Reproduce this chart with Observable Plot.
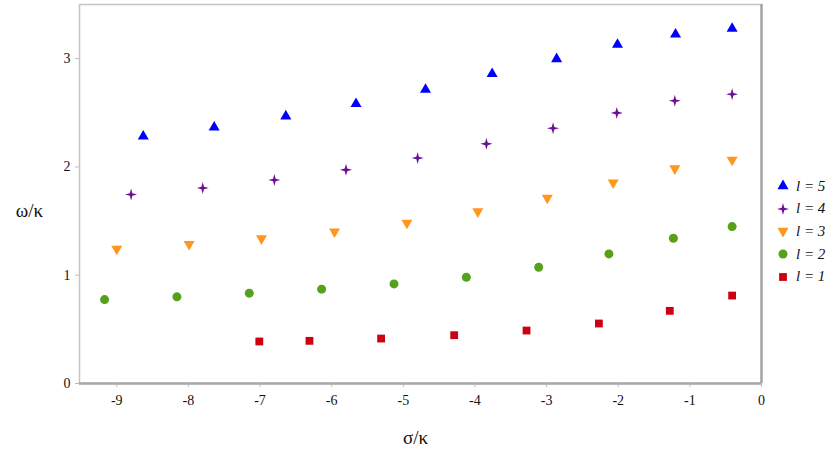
<!DOCTYPE html>
<html>
<head>
<meta charset="utf-8">
<script src="https://cdn.jsdelivr.net/npm/d3@7"></script>
<script src="https://cdn.jsdelivr.net/npm/@observablehq/plot@0.6"></script>
<style>
  html, body { margin: 0; padding: 0; background: #fff; }
  #wrap { position: relative; width: 836px; height: 457px; font-family: 'Liberation Serif'; }
  #chart svg, #chart svg text { font-family: 'Liberation Serif' !important; }
  #legend { position: absolute; left: 776px; top: 175px; font-style: italic; font-size: 15px; color: #111; font-family: 'Liberation Serif'; }
  #legend .row { display: flex; align-items: center; height: 22.6px; }
  #legend svg { margin-right: 6px; }
</style>
</head>
<body>
<div id="wrap"><div id="chart"></div><div id="legend"></div></div>
<script>
// ---- data ----
const l5sigma = [-8.63, -7.64, -6.64, -5.66, -4.69, -3.76, -2.86, -2.01, -1.20, -0.41];
const l5omega = [2.283, 2.366, 2.468, 2.582, 2.714, 2.859, 2.997, 3.129, 3.224, 3.277];
const l4sigma = [-8.80, -7.80, -6.80, -5.80, -4.80, -3.84, -2.91, -2.02, -1.21, -0.41];
const l4omega = [1.745, 1.806, 1.880, 1.973, 2.083, 2.213, 2.357, 2.499, 2.612, 2.671];
const l3sigma = [-9.00, -7.99, -6.98, -5.96, -4.95, -3.96, -2.99, -2.07, -1.21, -0.41];
const l3omega = [1.243, 1.286, 1.339, 1.403, 1.483, 1.588, 1.714, 1.855, 1.985, 2.065];
const l2sigma = [-9.17, -8.16, -7.15, -6.14, -5.13, -4.12, -3.11, -2.13, -1.23, -0.41];
const l2omega = [0.775, 0.800, 0.834, 0.871, 0.920, 0.981, 1.074, 1.197, 1.341, 1.449];
const l1sigma = [-7.01, -6.31, -5.31, -4.29, -3.28, -2.27, -1.28, -0.41];
const l1omega = [0.388, 0.394, 0.415, 0.446, 0.489, 0.554, 0.671, 0.812];
const seriesNames = ["l = 5", "l = 4", "l = 3", "l = 2", "l = 1"];
const xTicks = [-9, -8, -7, -6, -5, -4, -3, -2, -1, 0];
const yTicks = [0, 1, 2, 3];
const xLabel = "σ/κ";
const yLabel = "ω/κ";

// ---- styles ----
const colors = {"l = 5": "#0000ff", "l = 4": "#6e0e96", "l = 3": "#ff961e", "l = 2": "#56a11c", "l = 1": "#cc0010"};
const serifFont = "Liberation Serif";

const sparkle = {
  draw(context, size) {
    const R = Math.sqrt(size / Math.PI) * 1.5;
    const ri = R * 0.3;
    for (let i = 0; i < 8; i++) {
      const a = i * Math.PI / 4 - Math.PI / 2;
      const rr = i % 2 === 0 ? R : ri;
      const x = rr * Math.cos(a), y = rr * Math.sin(a);
      if (i === 0) context.moveTo(x, y); else context.lineTo(x, y);
    }
    context.closePath();
  }
};

const mk = (s, o) => s.map((v, i) => ({sigma: v, omega: o[i]}));
const rows5 = mk(l5sigma, l5omega), rows4 = mk(l4sigma, l4omega), rows3 = mk(l3sigma, l3omega),
      rows2 = mk(l2sigma, l2omega), rows1 = mk(l1sigma, l1omega);

const symFor = {"l = 5": ["triangle", d3.symbolTriangle, 0, 4.1],
                "l = 4": [sparkle, sparkle, 0, 4.0],
                "l = 3": ["triangle", d3.symbolTriangle, 180, 4.1],
                "l = 2": ["circle", d3.symbolCircle, 0, 4.5],
                "l = 1": ["square", d3.symbolSquare, 0, 4.4]};
const dataFor = {"l = 5": rows5, "l = 4": rows4, "l = 3": rows3, "l = 2": rows2, "l = 1": rows1};

const chart = Plot.plot({
  width: 836,
  height: 457,
  marginLeft: 79,
  marginRight: 75,
  marginTop: 4,
  marginBottom: 74,
  style: {fontSize: "14px", fontFamily: serifFont, color: "#111", background: "#fff"},
  x: {domain: [-9.52, 0], label: null},
  y: {domain: [0, 3.5], label: null},
  marks: [
    Plot.frame({stroke: "#c4c4c4", strokeWidth: 1.5}),
    Plot.ruleY([0], {stroke: "#a6a6a6", strokeWidth: 2.5}),
    Plot.ruleX([0], {stroke: "#a6a6a6", strokeWidth: 2.5}),
    Plot.axisX({ticks: xTicks, tickSize: 4, tickPadding: 8, stroke: "#bbb", fill: "#111", fontSize: 14, tickFormat: d => String(d), label: null}),
    Plot.axisY({ticks: yTicks, tickSize: 4, tickPadding: 5, stroke: "#bbb", fill: "#111", fontSize: 14, tickFormat: d => String(d), label: null}),
    Plot.text([yLabel], {frameAnchor: "left", dx: -50, dy: 17, text: d => d, fontSize: 19, textAnchor: "middle", fill: "#111"}),
    Plot.text([xLabel], {frameAnchor: "bottom", dx: -5, dy: 60, text: d => d, fontSize: 19, textAnchor: "middle", fill: "#111"}),
    ...seriesNames.map(n => Plot.dot(dataFor[n], {
      x: "sigma", y: "omega", symbol: symFor[n][0], rotate: symFor[n][2], r: symFor[n][3],
      fill: colors[n], stroke: "none"
    }))
  ]
});
document.getElementById("chart").appendChild(chart);

// ---- legend ----
const leg = d3.select("#legend");
seriesNames.forEach(n => {
  const row = leg.append("div").attr("class", "row");
  const svg = row.append("svg").attr("width", 14).attr("height", 14);
  const [, t, rot, r] = symFor[n];
  svg.append("path")
    .attr("d", d3.symbol(t, Math.PI * r * r)())
    .attr("transform", `translate(7,7) rotate(${rot})`)
    .attr("fill", colors[n]);
  row.append("span").text(n);
});
</script>
</body>
</html>
